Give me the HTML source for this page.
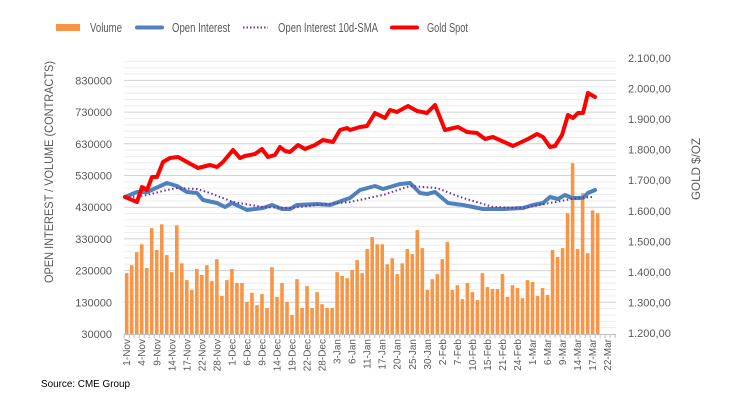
<!DOCTYPE html>
<html><head><meta charset="utf-8"><style>
body{margin:0;background:#fff;}
svg{display:block;font-family:"Liberation Sans",sans-serif;}
</style></head><body>
<svg id="s" width="734" height="417" viewBox="0 0 734 417" xmlns="http://www.w3.org/2000/svg">
<g id="grid"></g>
<g id="bars" fill="#f79646"></g>
<polyline fill="none" stroke="#4f81bd" stroke-width="4" stroke-linejoin="round" stroke-linecap="round" points="125,197 137,192 147,192 167,183 177,186 187,192 197,193 203,200 217,203 225,207 232,203 247,210 263,208 272,205 282,209 290,209 297,205 317,204 330,205 347,199 350,198 360,190 375,186 383,189 400,184 410,183 420,193 427,194 435,192 448,203 463,205 483,209 503,209 523,208 533,205 543,203 550,197 558,199 565,195 572,198 583,198 588,193 595,190"/>
<polyline fill="none" stroke="#7030a0" stroke-width="2" stroke-dasharray="1.5,2.5" points="125,198 147,195 167,190 177,188 197,189 210,193 233,202 263,207 290,208 317,205 350,202 383,195 410,186 437,188 460,197 493,207 523,208 550,203 577,198 592,197"/>
<polyline fill="none" stroke="#ff0000" stroke-width="4" stroke-linejoin="round" stroke-linecap="round" points="125,197 137,202 142,187 147,190 152,177 157,177 163,162 170,158 178,157 187,162 198,168 210,165 217,167 223,162 233,150 240,158 245,156 255,154 262,149 268,157 275,155 280,147 285,151 290,152 298,145 305,149 315,145 323,140 333,142 340,130 347,128 350,130 360,127 367,126 375,113 385,118 390,110 397,112 408,106 417,111 427,113 435,105 445,130 458,127 467,132 477,133 485,139 493,137 513,146 528,139 537,134 543,137 550,147 555,146 562,135 568,115 573,118 578,113 583,113 588,93 595,97"/>
<g id="xl" font-size="10" fill="#595959"></g>
<g font-size="11" fill="#595959" text-anchor="end" id="yl"></g>
<g font-size="11" fill="#595959" id="yr"></g>
<text transform="translate(53,172) rotate(-90)" font-size="12" fill="#595959" text-anchor="middle" textLength="222" lengthAdjust="spacingAndGlyphs">OPEN INTEREST / VOLUME (CONTRACTS)</text>
<text transform="translate(700,169) rotate(-90)" font-size="12" fill="#595959" text-anchor="middle" textLength="62" lengthAdjust="spacingAndGlyphs">GOLD $/OZ</text>
<text x="41" y="387" font-size="10" fill="#000" textLength="89" lengthAdjust="spacingAndGlyphs">Source: CME Group</text>
<g font-size="13" fill="#595959">
<rect x="56" y="24" width="24" height="7" fill="#f79646"/><text x="90" y="32" textLength="32" lengthAdjust="spacingAndGlyphs">Volume</text>
<line x1="137" y1="27.5" x2="162" y2="27.5" stroke="#4f81bd" stroke-width="4" stroke-linecap="round"/><text x="172" y="32" textLength="58" lengthAdjust="spacingAndGlyphs">Open Interest</text>
<line x1="243" y1="27.5" x2="268" y2="27.5" stroke="#7030a0" stroke-width="2" stroke-dasharray="1.5,2"/><text x="278" y="32" textLength="100" lengthAdjust="spacingAndGlyphs">Open Interest 10d-SMA</text>
<line x1="392" y1="27.5" x2="417" y2="27.5" stroke="#ff0000" stroke-width="4" stroke-linecap="round"/><text x="427" y="32" textLength="41" lengthAdjust="spacingAndGlyphs">Gold Spot</text>
</g>
</svg>
<script>
var NS="http://www.w3.org/2000/svg";
function el(p,t,a,txt){var e=document.createElementNS(NS,t);for(var k in a)e.setAttribute(k,a[k]);if(txt!=null)e.textContent=txt;document.getElementById(p).appendChild(e);return e;}
var y0=334,ppu=31.7/100000;
function Y(v){return y0-(v-30000)*ppu;}
for(var v=50000;v<=890000;v+=20000){el("grid","line",{x1:124,x2:616,y1:Y(v),y2:Y(v),stroke:"#ececec","stroke-width":1});}
for(var v=130000;v<=830000;v+=100000){el("grid","line",{x1:124,x2:616,y1:Y(v),y2:Y(v),stroke:"#d4d4d4","stroke-width":1});}
for(var v=30000;v<=830000;v+=100000){el("yl","text",{x:112,y:Y(v)+4},String(v));}
var rv=["2.100,00","2.000,00","1.900,00","1.800,00","1.700,00","1.600,00","1.500,00","1.400,00","1.300,00","1.200,00"];
for(var i=0;i<10;i++){el("yr","text",{x:628,y:58+i*30.55+4},rv[i]);}
var vol=[222,247,288,313,238,364,295,376,279,225,373,253,200,169,235,216,247,197,266,150,200,235,191,191,131,160,121,156,112,241,147,191,131,90,203,112,181,112,162,124,112,112,225,213,206,232,263,222,298,336,313,313,250,269,219,253,298,282,358,301,169,203,219,266,320,169,184,140,191,162,137,222,178,172,172,219,147,184,175,143,200,194,150,175,153,295,273,301,411,569,298,474,285,420,411];
for(var i=0;i<vol.length;i++){var x=126.7+i*5.01,t=Y(vol[i]*1000);el("bars","rect",{x:x-1.8,y:t,width:3.6,height:y0-t});}
el("grid","line",{x1:124,x2:616,y1:y0+0.5,y2:y0+0.5,stroke:"#bfbfbf"});
for(var i=0;i<=98;i++){var x=124.2+i*5.01;el("grid","line",{x1:x,x2:x,y1:y0,y2:y0+4,stroke:"#bfbfbf"});}
var lab=["1-Nov","4-Nov","9-Nov","14-Nov","17-Nov","22-Nov","28-Nov","1-Dec","6-Dec","9-Dec","14-Dec","19-Dec","22-Dec","28-Dec","3-Jan","6-Jan","11-Jan","17-Jan","20-Jan","25-Jan","30-Jan","2-Feb","7-Feb","10-Feb","15-Feb","21-Feb","24-Feb","1-Mar","6-Mar","9-Mar","14-Mar","17-Mar","22-Mar"];
for(var i=0;i<lab.length;i++){var x=126.7+i*15.03+3.5;el("xl","text",{transform:"translate("+x+",339) rotate(-90)","text-anchor":"end"},lab[i]);}
</script>
</body></html>
